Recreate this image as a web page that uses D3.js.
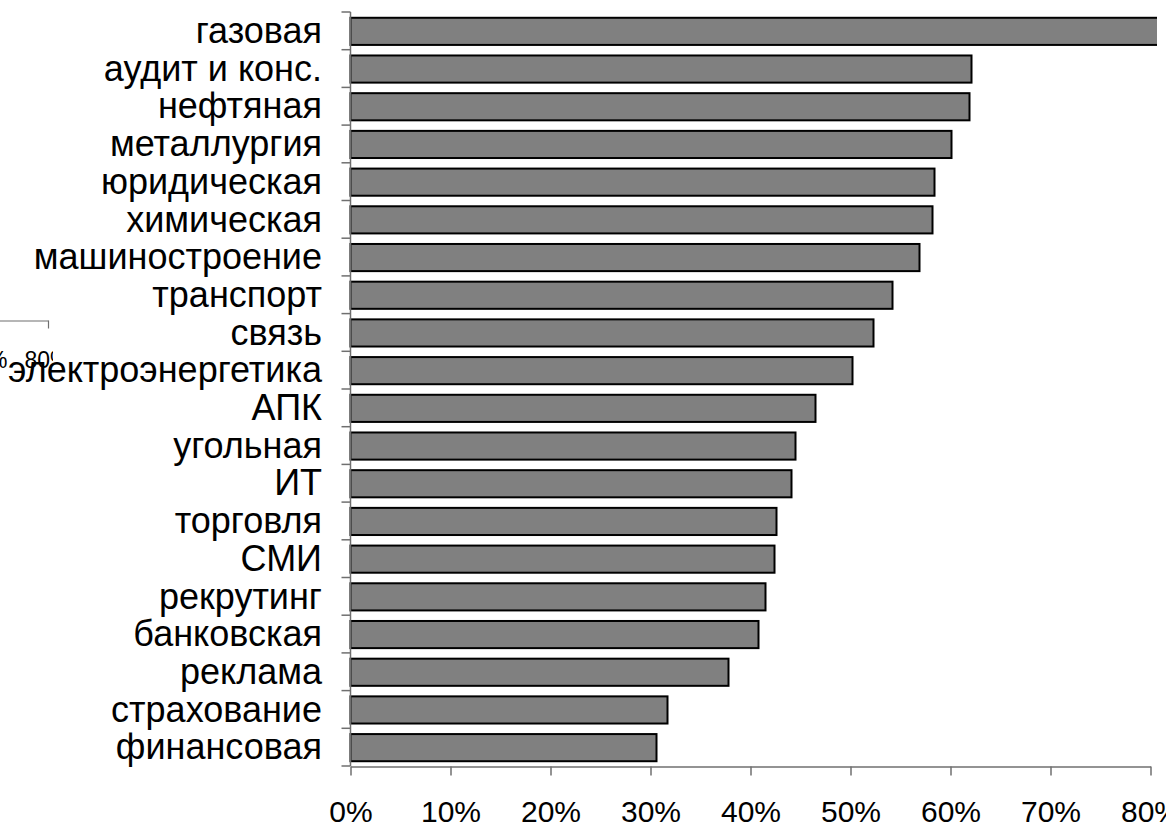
<!DOCTYPE html>
<html>
<head>
<meta charset="utf-8">
<script src="https://cdn.jsdelivr.net/npm/d3@7"></script>
<style>
  html, body { margin: 0; padding: 0; background: #fff; }
  svg { display: block; font-family: "Liberation Sans", Arial, sans-serif; }
</style>
</head>
<body>
<svg id="chart" width="1166" height="827"></svg>
<script>
// Industries, from top to bottom
const categories = [
  "газовая", "аудит и конс.", "нефтяная", "металлургия", "юридическая",
  "химическая", "машиностроение", "транспорт", "связь", "электроэнергетика",
  "АПК", "угольная", "ИТ", "торговля", "СМИ", "рекрутинг", "банковская",
  "реклама", "страхование", "финансовая"
];
// Share per industry
const values = [
  0.810, 0.621, 0.619, 0.601, 0.584,
  0.582, 0.569, 0.542, 0.523, 0.502,
  0.465, 0.445, 0.441, 0.426, 0.424, 0.415, 0.408,
  0.378, 0.317, 0.306
];
// Axis ticks
const xTicks = [0, 0.1, 0.2, 0.3, 0.4, 0.5, 0.6, 0.7, 0.8];
const xTickLabels = ["0%", "10%", "20%", "30%", "40%", "50%", "60%", "70%", "80%"];

const svg = d3.select("#chart");
const axisColor = "#6f6f6f";
const labelSize = 36;
const tickSize = 30;

const x = d3.scaleLinear().domain([0, 0.8]).range([350.5, 1150.5]);
const y = d3.scaleBand().domain(categories).range([12, 766]).paddingInner(0.28).paddingOuter(0.14);
const yEdges = d3.scaleBand().domain(categories).range([12, 766]).padding(0);

// plot area clip (the longest bar runs past the last tick)
svg.append("defs").append("clipPath").attr("id", "plotClip")
  .append("rect").attr("x", 0).attr("y", 0).attr("width", 1157).attr("height", 827);

// bars
svg.append("g").attr("clip-path", "url(#plotClip)")
  .selectAll("rect").data(categories).join("rect")
  .attr("x", x(0))
  .attr("y", d => y(d) + 0.5)
  .attr("width", (d, i) => x(values[i]) - x(0))
  .attr("height", y.bandwidth())
  .attr("fill", "#808080")
  .attr("stroke", "#000")
  .attr("stroke-width", 2);

// value axis
const xAxis = d3.axisBottom(x)
  .tickValues(xTicks)
  .tickFormat((d, i) => xTickLabels[i])
  .tickSize(9)
  .tickPadding(25)
  .tickSizeOuter(0);
const gx = svg.append("g").attr("transform", "translate(0,766.5)").call(xAxis);
gx.select(".domain").attr("stroke", axisColor).attr("stroke-width", 1.5);
gx.selectAll(".tick line").attr("stroke", axisColor).attr("stroke-width", 1.5);
gx.selectAll(".tick text").attr("fill", "#000").attr("font-size", tickSize)
  .attr("font-family", "'Liberation Sans', Arial, sans-serif");

// category axis: line, ticks on band edges, labels on band centres
const gy = svg.append("g");
const edges = categories.map(c => yEdges(c)).concat([yEdges.range()[1]]);
gy.append("line")
  .attr("x1", x(0)).attr("x2", x(0))
  .attr("y1", edges[0]).attr("y2", edges[edges.length - 1])
  .attr("stroke", axisColor).attr("stroke-width", 1.5);
gy.selectAll("line.tk").data(edges).join("line").attr("class", "tk")
  .attr("x1", x(0) - 9).attr("x2", x(0))
  .attr("y1", d => d).attr("y2", d => d)
  .attr("stroke", axisColor).attr("stroke-width", 1.5);
gy.selectAll("text").data(categories).join("text")
  .attr("x", 322)
  .attr("y", d => yEdges(d) + yEdges.bandwidth() / 2)
  .attr("dy", "0.34em")
  .attr("text-anchor", "end")
  .attr("font-size", labelSize)
  .attr("fill", "#000")
  .text(d => d);

// small stray copy of the value axis at the left edge
svg.append("defs").append("clipPath").attr("id", "miniClip")
  .append("rect").attr("x", 0).attr("y", 300).attr("width", 53).attr("height", 80);
const xMini = d3.scaleLinear().domain([0, 0.8]).range([48 - 8 * 63, 48]);
const miniAxis = d3.axisBottom(xMini)
  .tickValues(xTicks)
  .tickFormat((d, i) => xTickLabels[i])
  .tickSize(8)
  .tickPadding(23)
  .tickSizeOuter(0);
const gm = svg.append("g").attr("clip-path", "url(#miniClip)")
  .append("g").attr("transform", "translate(0,320.5)").call(miniAxis);
gm.select(".domain").attr("stroke", axisColor).attr("stroke-width", 1.2);
gm.selectAll(".tick line").attr("stroke", axisColor).attr("stroke-width", 1.2);
gm.selectAll(".tick text").attr("fill", "#000").attr("font-size", 23).attr("dx", -1)
  .attr("font-family", "'Liberation Sans', Arial, sans-serif");
</script>
</body>
</html>
